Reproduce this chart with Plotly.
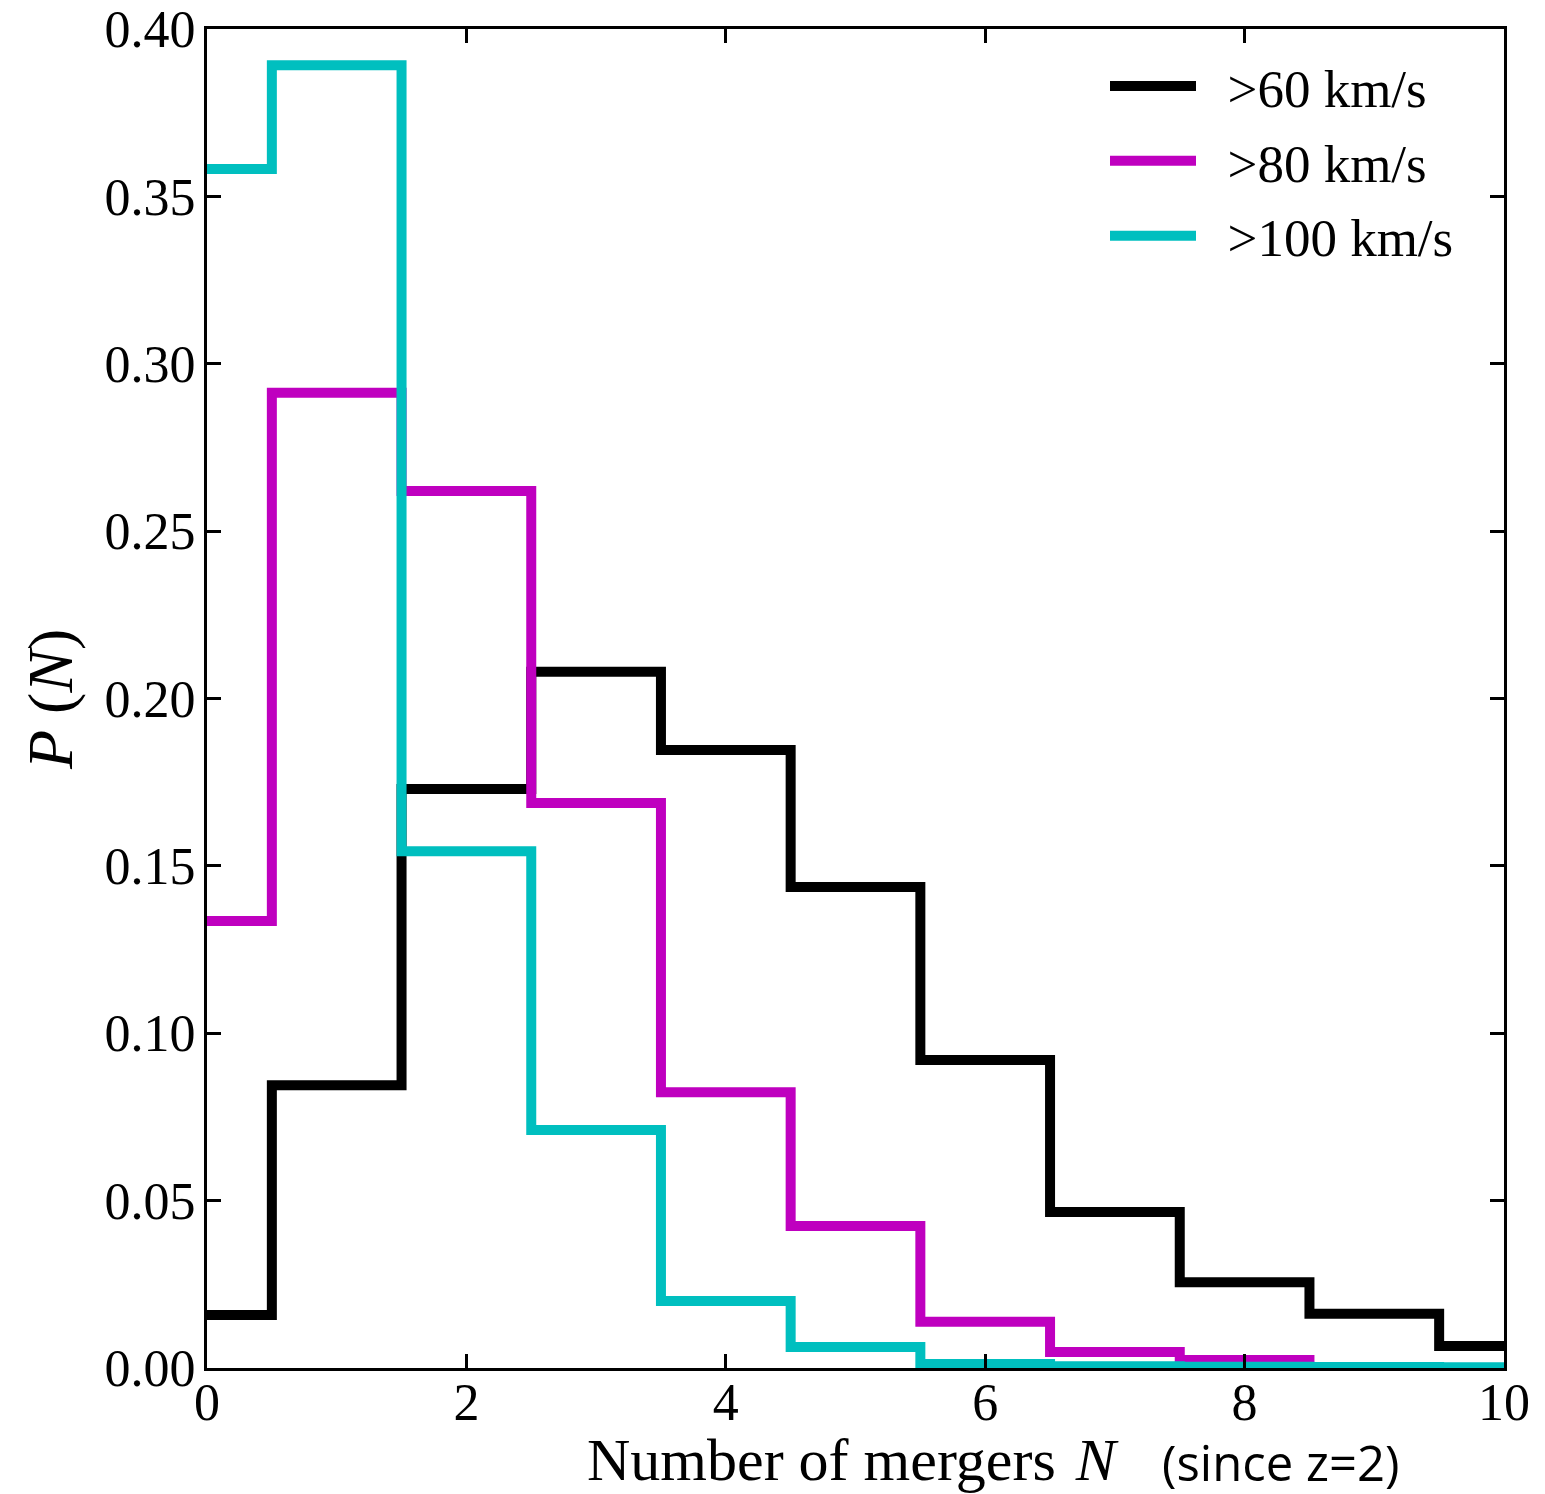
import plotly.graph_objects as go

# Number of mergers (bin centres)
N = [0, 1, 2, 3, 4, 5, 6, 7, 8, 9, 10]
# P(N) for each velocity threshold
p_gt60 = [0.0158, 0.0845, 0.173, 0.208, 0.1846, 0.1437, 0.092, 0.0466, 0.0256, 0.0162, 0.0066]
p_gt80 = [0.1335, 0.2913, 0.262, 0.1688, 0.0824, 0.0424, 0.0138, 0.0048, 0.0024, 0.0, 0.0]
p_gt100 = [0.3582, 0.3892, 0.1544, 0.0711, 0.0200, 0.0063, 0.0012, 0.0005, 0.0004, 0.0003, 0.0002]

series_names = ["&gt;60 km/s", "&gt;80 km/s", "&gt;100 km/s"]
series_values = [p_gt60, p_gt80, p_gt100]
series_colors = ["#000000", "#bf00bf", "#00bfbf"]

x_ticks = [0, 2, 4, 6, 8, 10]
y_ticks = [0.00, 0.05, 0.10, 0.15, 0.20, 0.25, 0.30, 0.35, 0.40]

SERIF = "Liberation Serif"

fig = go.Figure()
for i, (name, vals, col) in enumerate(zip(series_names, series_values, series_colors)):
    fig.add_trace(go.Scatter(
        x=N, y=vals, name="\u00a0\u00a0" + name, mode="lines",
        line=dict(color=col, width=10, shape="hvh"),
        legendgroup=f"g{i}",
    ))

W, H = 1545, 1494
PX0, PX1, PY0, PY1 = 207, 1504, 29, 1368   # plot area in page pixels
L, T = PX0, PY0
R = W - PX1
B = H - PY1
pw = PX1 - PX0
ph = PY1 - PY0


def px(xp):
    return (xp - PX0) / pw


def py(yp):
    return (PY1 - yp) / ph


fig.update_layout(
    width=W, height=H,
    margin=dict(l=L, r=R, t=T, b=B, pad=0, autoexpand=False),
    plot_bgcolor="white", paper_bgcolor="white",
    font=dict(family=SERIF, size=52, color="black"),
    showlegend=True,
    legend=dict(
        x=px(1105), y=py(45), xanchor="left", yanchor="top",
        bgcolor="rgba(0,0,0,0)", borderwidth=0,
        font=dict(family=SERIF, size=53, color="black"),
        itemwidth=86, tracegroupgap=3, traceorder="grouped",
    ),
    xaxis=dict(
        range=[0, 10], tickvals=x_ticks, ticktext=[str(v) for v in x_ticks],
        ticks="inside", ticklen=14, tickwidth=3, tickcolor="black",
        showline=True, linecolor="black", linewidth=3, mirror="ticks",
        showgrid=False, zeroline=False, automargin=False,
        tickfont=dict(family=SERIF, size=52, color="black"),
        ticklabelstandoff=-13, ticklabeloverflow="allow",
    ),
    yaxis=dict(
        range=[0, 0.40], tickvals=y_ticks, ticktext=[f"{v:.2f}" for v in y_ticks],
        ticks="inside", ticklen=14, tickwidth=3, tickcolor="black",
        showline=True, linecolor="black", linewidth=3, mirror="ticks",
        showgrid=False, zeroline=False, automargin=False,
        tickfont=dict(family=SERIF, size=52, color="black"),
        ticklabelstandoff=-2, ticklabeloverflow="allow",
    ),
    annotations=[
        dict(text="Number of mergers\u00a0\u200a<i>N</i>", xref="paper", yref="paper",
             x=px(585), y=py(1460), xanchor="left", yanchor="middle",
             showarrow=False, font=dict(family=SERIF, size=60, color="black")),
        dict(text="(since z=2)", xref="paper", yref="paper",
             x=px(1160), y=py(1462), xanchor="left", yanchor="middle",
             showarrow=False, font=dict(family="Open Sans", size=49, color="black", weight=500)),
        dict(text="<i>P</i>\u00a0(<i>N</i>)", xref="paper", yref="paper",
             x=px(50), y=py(700), xanchor="center", yanchor="middle",
             textangle=-90, showarrow=False,
             font=dict(family=SERIF, size=64, color="black")),
    ],
)

fig.write_html("out.html", config={"displayModeBar": False},
               post_script="document.body.style.margin='0';")
